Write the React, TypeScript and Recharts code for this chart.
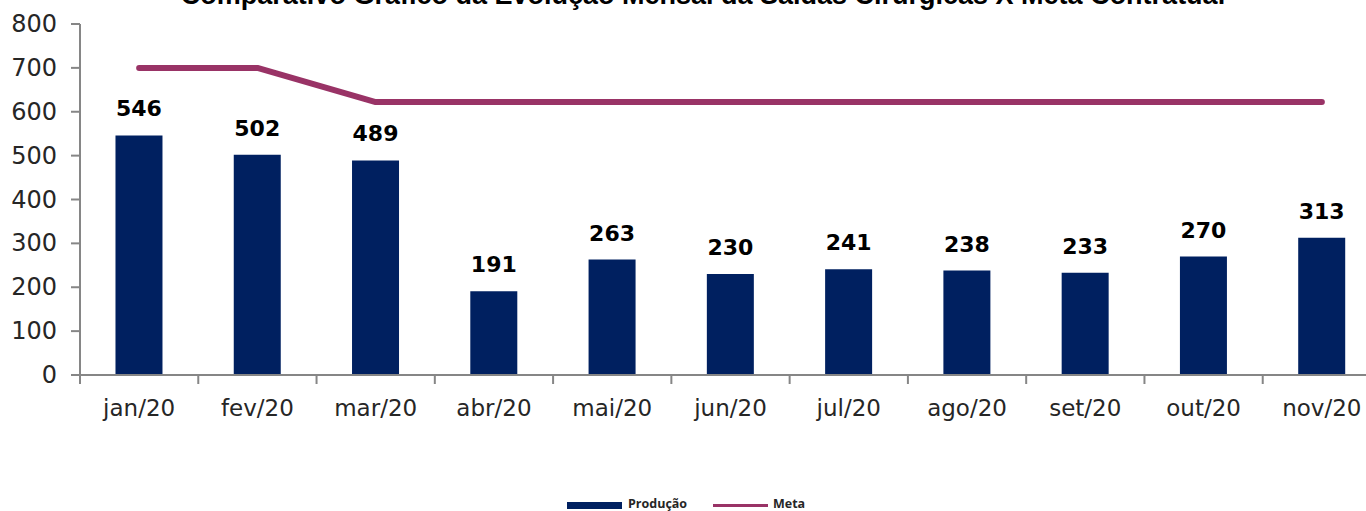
import React from 'react';
import { ComposedChart, Bar, Line, XAxis, YAxis, LabelList } from 'recharts';

const categories = ['jan/20', 'fev/20', 'mar/20', 'abr/20', 'mai/20', 'jun/20', 'jul/20', 'ago/20', 'set/20', 'out/20', 'nov/20'];
const producao = [546, 502, 489, 191, 263, 230, 241, 238, 233, 270, 313];
const meta = [700, 700, 622, 622, 622, 622, 622, 622, 622, 622, 622];
const yTicks = [0, 100, 200, 300, 400, 500, 600, 700, 800];
const title = 'Comparativo Gráfico da Evolução Mensal da Saídas Cirúrgicas X Meta Contratual';

const data = categories.map((c, i) => ({ name: c, producao: producao[i], meta: meta[i] }));

const BAR_COLOR = '#002060';
const LINE_COLOR = '#993366';
const AXIS_COLOR = '#868686';
const TICK_FONT = '"DejaVu Sans", sans-serif';

const XTick = (props: any) => {
  const { x, y, payload } = props;
  const off = payload && payload.offset ? payload.offset : 59;
  return (
    <g>
      <line x1={x - off} y1={y - 8} x2={x - off} y2={y + 1} stroke={AXIS_COLOR} strokeWidth={2} />
      <text x={x} y={y + 33} textAnchor="middle" fontFamily={TICK_FONT} fontSize={23} fill="#262626">
        {payload.value}
      </text>
    </g>
  );
};

const YTick = (props: any) => {
  const { x, y, payload } = props;
  return (
    <text x={x - 12} y={y + 8} textAnchor="end" fontFamily={TICK_FONT} fontSize={24} fill="#262626">
      {payload.value}
    </text>
  );
};

export default function App() {
  return (
    <div style={{ position: 'absolute', left: 0, top: 0, width: 1366, height: 511, overflow: 'hidden', background: '#fff' }}>
      <div style={{ position: 'absolute', left: 0, top: -20 }}>
        <ComposedChart
          width={1400}
          height={540}
          data={data}
          margin={{ top: 44, right: 19, bottom: 85, left: 0 }}
          barCategoryGap="30%"
        >
          <text x={703} y={24} textAnchor="middle" fontFamily='"Liberation Sans", Arial, sans-serif' fontWeight="bold" fontSize={27} fill="#000">
            {title}
          </text>
          <XAxis
            dataKey="name"
            tick={<XTick />}
            tickLine={false}
            axisLine={{ stroke: AXIS_COLOR, strokeWidth: 2 }}
            interval={0}
            height={60}
          />
          <YAxis
            width={80}
            domain={[0, 800]}
            ticks={yTicks}
            tick={<YTick />}
            tickLine={{ stroke: AXIS_COLOR, strokeWidth: 2 }}
            tickSize={9}
            axisLine={{ stroke: AXIS_COLOR, strokeWidth: 2 }}
            interval={0}
          />
          <Bar dataKey="producao" fill={BAR_COLOR} isAnimationActive={false} maxBarSize={47}>
            <LabelList
              dataKey="producao"
              position="top"
              offset={19}
              fontFamily={TICK_FONT}
              fontWeight="bold"
              fontSize={22}
              fill="#000"
            />
          </Bar>
          <Line
            dataKey="meta"
            stroke={LINE_COLOR}
            strokeWidth={6}
            strokeLinecap="round"
            strokeLinejoin="round"
            dot={false}
            activeDot={false}
            isAnimationActive={false}
          />
          <g>
            <rect x={567} y={522} width={55} height={7} fill={BAR_COLOR} />
            <text x={628} y={528} fontFamily='"Open Sans", sans-serif' fontWeight="bold" fontSize={12.5} fill="#262626">Produção</text>
            <line x1={713} y1={525.5} x2={768} y2={525.5} stroke={LINE_COLOR} strokeWidth={3} />
            <text x={773} y={528} fontFamily='"Open Sans", sans-serif' fontWeight="bold" fontSize={12.5} fill="#262626">Meta</text>
          </g>
        </ComposedChart>
      </div>
    </div>
  );
}
